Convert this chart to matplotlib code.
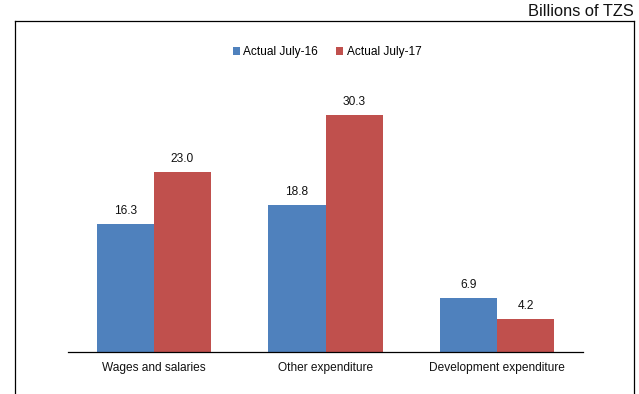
import matplotlib
matplotlib.use("Agg")
import matplotlib.pyplot as plt
from matplotlib.lines import Line2D
from matplotlib.patches import Patch
import numpy as np

plt.rcParams['font.family'] = ['Liberation Sans', 'DejaVu Sans']

categories = ["Wages and salaries", "Other expenditure", "Development expenditure"]
actual_jul16 = [16.3, 18.8, 6.9]
actual_jul17 = [23.0, 30.3, 4.2]
series_names = ["Actual July-16", "Actual July-17"]
colors = ["#4F81BD", "#C0504D"]

W, H = 639, 394
fig = plt.figure(figsize=(W / 100, H / 100), dpi=100)

ax = fig.add_axes([68 / W, 1 - 352 / H, (583 - 68) / W, (352 - 78) / H])
x = np.arange(len(categories))
width = 1 / 3
for i, (vals, name, col) in enumerate(zip([actual_jul16, actual_jul17], series_names, colors)):
    pos = x + (i - 0.5) * width
    bars = ax.bar(pos, vals, width=width, color=col, label=name)
    for b, v in zip(bars, vals):
        ax.annotate(f"{v:.1f}", (b.get_x() + b.get_width() / 2, v),
                    xytext=(0, 5), textcoords="offset points",
                    ha="center", va="bottom", fontsize=8.6, color="#111111")

ax.set_xlim(-0.5, len(categories) - 0.5)
ax.set_ylim(0, 35)
ax.set_xticks(x)
ax.set_xticklabels(categories, fontsize=8.6, color="#111111")
ax.tick_params(axis="x", length=0, pad=7)
ax.set_yticks([])
for side in ["left", "right", "top"]:
    ax.spines[side].set_visible(False)
ax.spines["bottom"].set_color("#000000")
ax.spines["bottom"].set_linewidth(0.9)

handles = [Patch(facecolor=c, edgecolor="none") for c in colors]
fig.legend(handles, series_names, loc="center", bbox_to_anchor=(327 / W, 1 - 52 / H),
           ncol=2, frameon=False, fontsize=8.6, handlelength=0.6, handleheight=0.6,
           handletextpad=0.3, columnspacing=1.5)

# outer frame (bottom edge runs off the image)
fl, fr, ft = 15 / W, 634 / W, 1 - 21 / H
for xs, ys in [([fl, fl], [0, ft]), ([fl, fr], [ft, ft]), ([fr, fr], [ft, 0])]:
    fig.add_artist(Line2D(xs, ys, transform=fig.transFigure, color="#000000", lw=0.9))

fig.text(634 / W, 1 - 11 / H, "Billions of TZS", ha="right", va="center", fontsize=11.8, color="#111111")

fig.savefig("out.png", dpi=100)
